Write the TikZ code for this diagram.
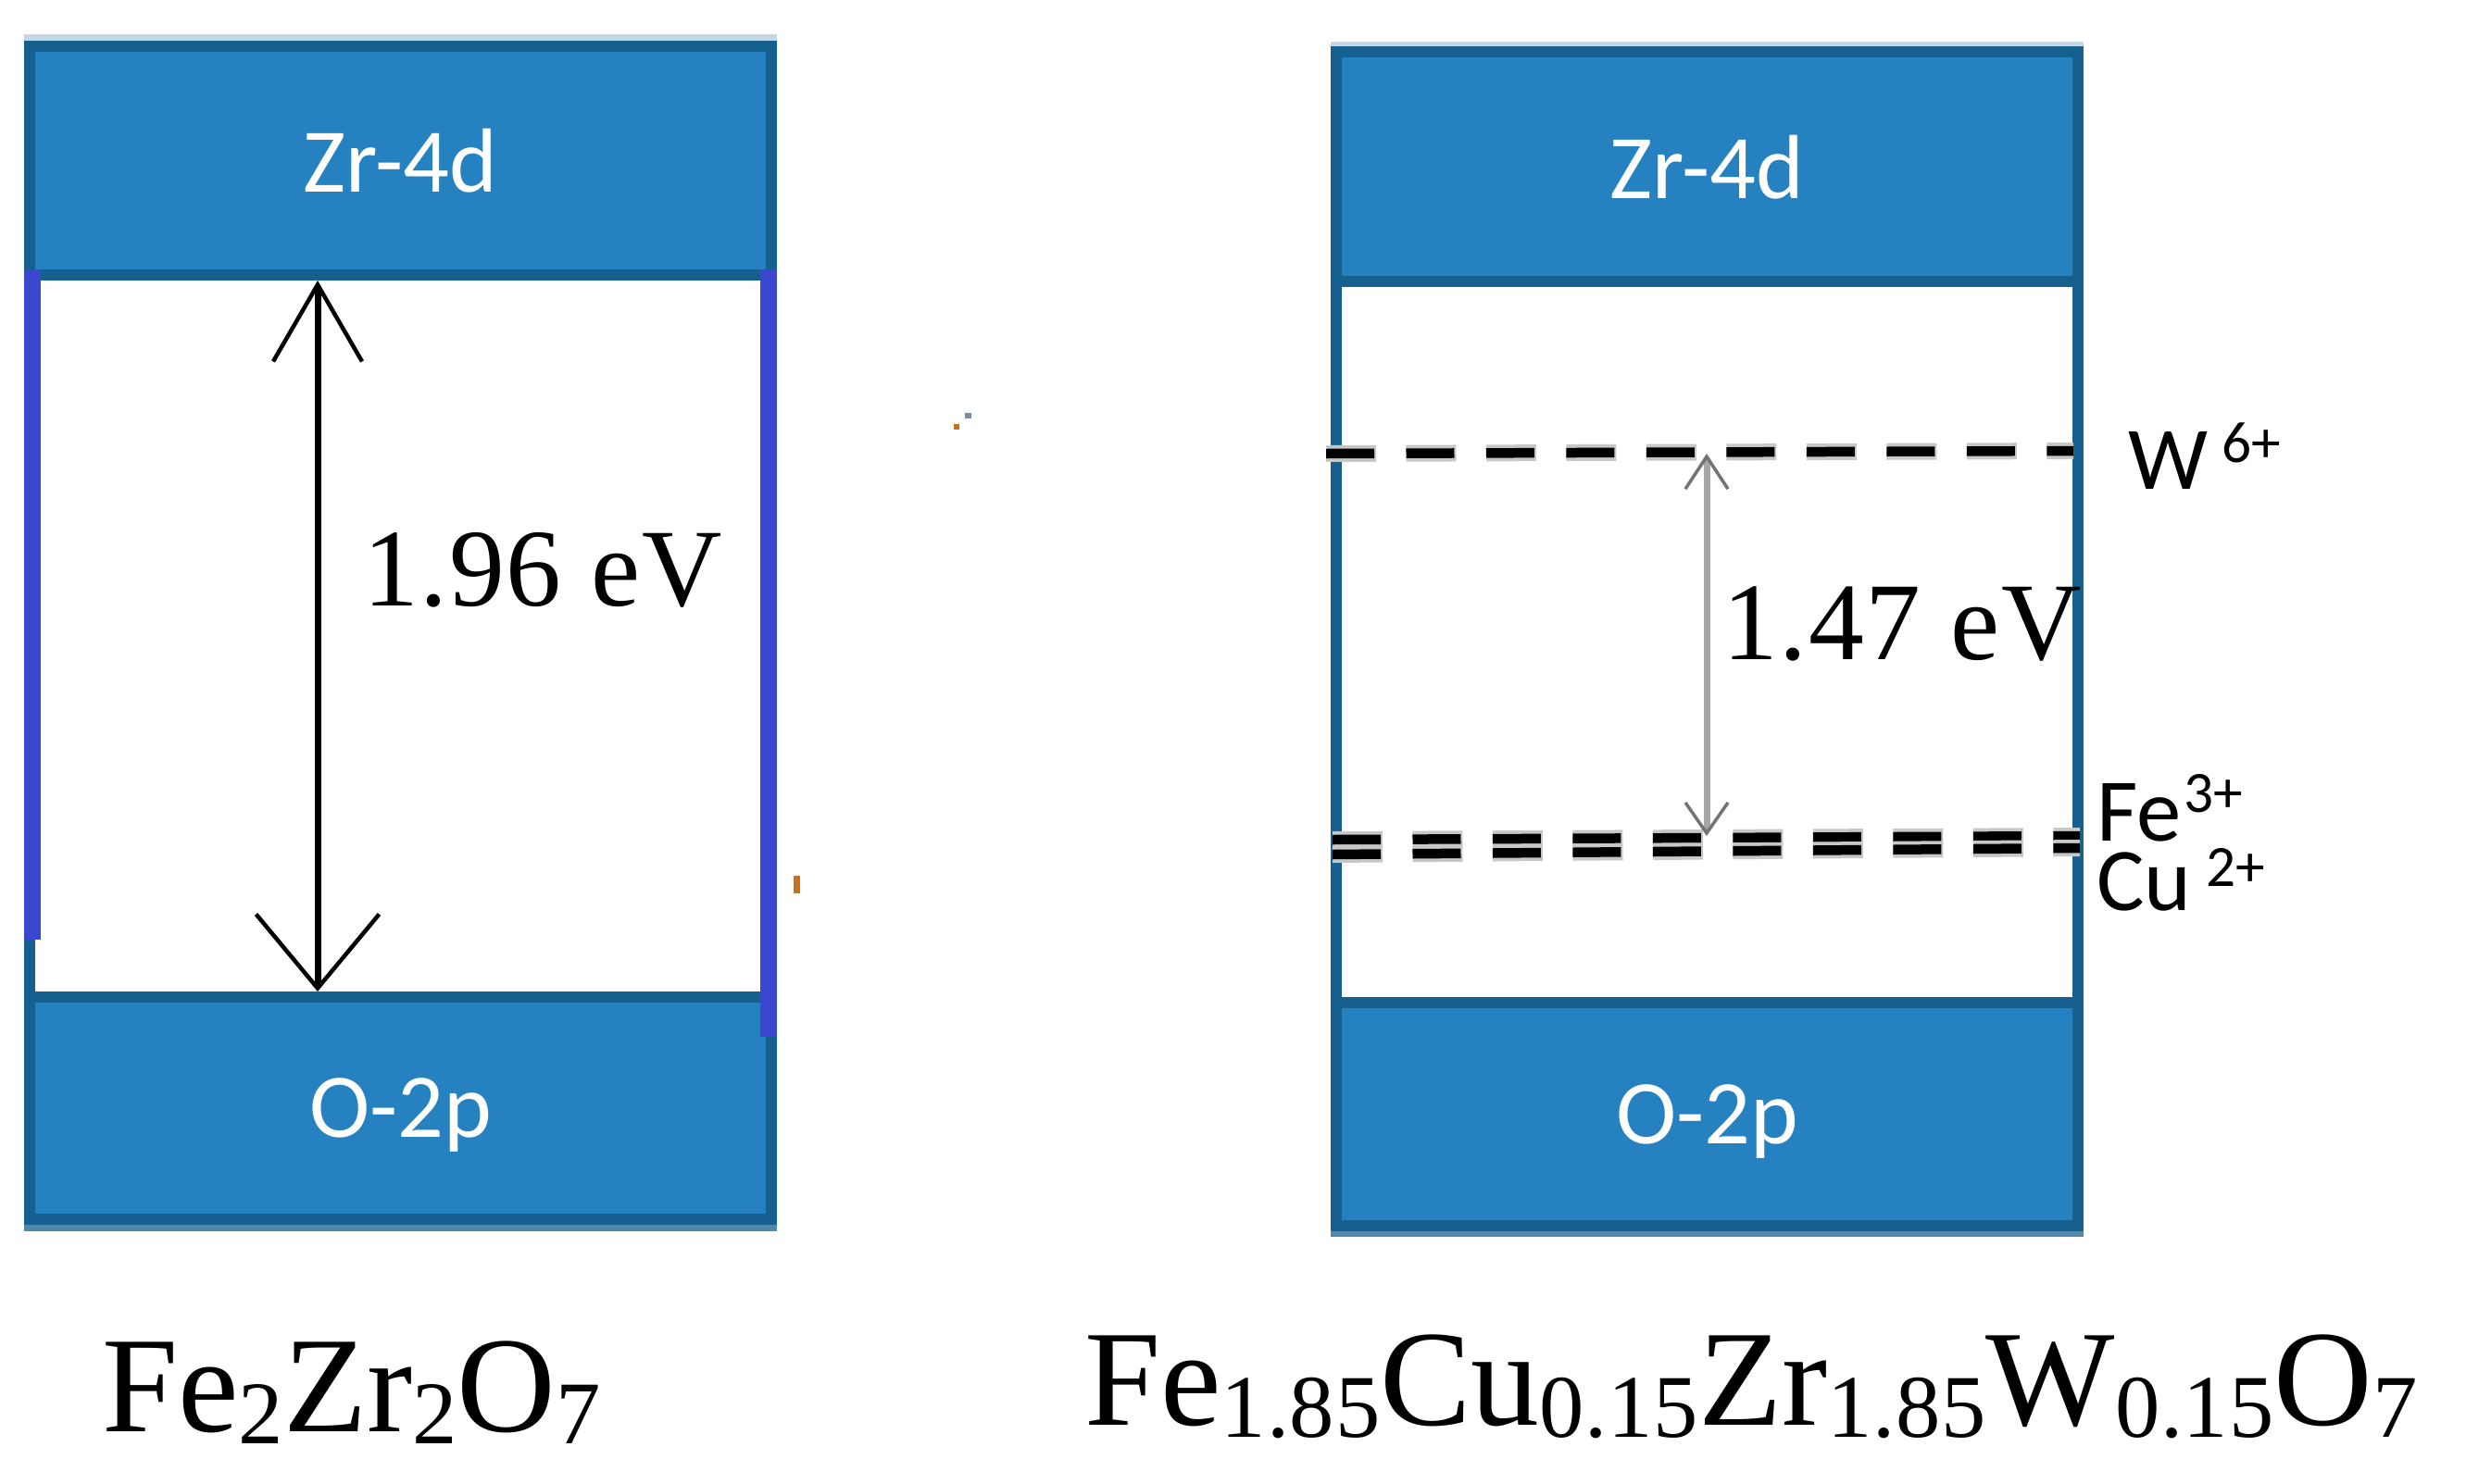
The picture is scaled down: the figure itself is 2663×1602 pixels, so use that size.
\documentclass[tikz,border=0pt]{standalone}
\usepackage{fontspec}
\usetikzlibrary{arrows.meta}
\setmainfont{Liberation Serif}
\newfontfamily\bandfont{Carlito}
\newfontfamily\subfont[LetterSpace=0.8]{Liberation Serif}
\newfontfamily\gapserif[LetterSpace=1.5]{Liberation Serif}
\definecolor{bandfill}{HTML}{2581C0}
\definecolor{bandline}{HTML}{15608F}
\definecolor{sideblue}{HTML}{3B47CF}
\definecolor{speckgrey}{HTML}{7E8C99}
\definecolor{speckorange}{HTML}{C9701E}
\newcommand{\gapfont}{\gapserif\fontsize{68}{70}\selectfont}
\newcommand{\formfont}{\fontsize{84}{90}\selectfont}
\newcommand{\lowered}[1]{\raisebox{-.26cm}{\fontsize{55}{55}\selectfont\subfont #1}}
\newcommand{\raised}[2]{\raisebox{#1}{\fontsize{36}{36}\selectfont #2}}
\begin{document}
\begin{tikzpicture}[x=0.02cm,y=-0.02cm]
        \tikzset{
            bandbox/.style={rectangle,draw=bandline,fill=bandfill,line width=.23cm,minimum width=16.02cm,
                text=white,text depth=0pt,font=\bandfont\fontsize{56}{60}\selectfont},
            frame/.style={draw=bandline,line width=.23cm},
            level/.style={draw=black,line width=.21cm,dash pattern=on 1.04cm off .69cm,
                preaction={draw=black!22,line width=.36cm,dash pattern=on 1.08cm off .65cm}},
            ion/.style={anchor=base west,inner sep=0pt,font=\bandfont\fontsize{55}{60}\selectfont},
            gaplabel/.style={anchor=base west,inner sep=0pt,font=\gapfont},
            formula/.style={anchor=base west,inner sep=0pt,font=\formfont}
        }
        \useasboundingbox (0,0) rectangle (2663,1602);

        % left box
        \fill[bandline!25] (26,37) rectangle (839,50);
        \fill[bandline!75] (26,1310) rectangle (839,1330);
        \draw[frame] (32,50) rectangle (833,1317);
        \node[bandbox,minimum height=4.94cm] (zrleft) at (432.5,173.5) {Zr-4d};
        \node[bandbox,minimum height=4.80cm] (oleft) at (432.5,1197) {O-2p};
        \fill[sideblue] (26,291) rectangle (44,1015);
        \fill[sideblue] (821,291) rectangle (839,1120);

        % right box
        \fill[bandline!25] (1437,45) rectangle (2250,56);
        \fill[bandline!75] (1437,1317) rectangle (2250,1336);
        \draw[frame] (1443,56) rectangle (2244,1324);
        \node[bandbox,minimum height=4.96cm] (zrright) at (1843.5,180) {Zr-4d};
        \node[bandbox,minimum height=4.82cm] (oright) at (1843.5,1203.5) {O-2p};

        % impurity levels
        \coordinate (wa) at (1432,490);
        \coordinate (wb) at (2239,487);
        \coordinate (fea) at (1439,907);
        \coordinate (feb) at (2246,903);
        \coordinate (cua) at (1439,923);
        \coordinate (cub) at (2246,916);
        \foreach \from / \to in {wa/wb,fea/feb,cua/cub}
            \draw[level] (\from) -- (\to);

        % gaps
        \coordinate (gapa) at (343,303);
        \coordinate (gapb) at (343,1071);
        \draw[black,line width=.14cm,{Straight Barb[length=1.66cm,width=1.92cm,line width=.09cm]}-{Straight Barb[length=1.6cm,width=2.66cm,line width=.09cm]}] (gapa) -- (gapb);
        \coordinate (gapc) at (1843,490);
        \coordinate (gapd) at (1843,903);
        \draw[black!35,line width=.14cm,{Straight Barb[length=.7cm,width=.92cm,line width=.07cm,black!55]}-{Straight Barb[length=.66cm,width=.92cm,line width=.07cm,black!55]}] (gapc) -- (gapd);

        \node[gaplabel] (gapleft) at (392,654) {1.96 eV};
        \node[gaplabel] (gapright) at (1860,712) {1.47 eV};

        % ions
        \node[ion] (wion) at (2298,528) {W\hspace{.3cm}\raised{.58cm}{6+}};
        \node[ion] (feion) at (2264,908) {Fe\hspace{.06cm}\raised{.62cm}{3+}};
        \node[ion] (cuion) at (2264,983) {Cu\hspace{.32cm}\raised{.52cm}{2+}};

        % formulas
        \node[formula] (formleft) at (110,1546) {Fe\lowered{2}Zr\lowered{2}O\lowered{7}};
        \node[formula] (formright) at (1171,1539) {Fe\lowered{1.85}Cu\lowered{0.15}Zr\lowered{1.85}W\lowered{0.15}O\lowered{7}};

        % specks
        \fill[speckgrey] (1042,446) rectangle (1049,452);
        \fill[speckorange] (1030,458) rectangle (1036,464);
        \fill[speckorange] (857,946) rectangle (864,965);
    \end{tikzpicture}
\end{document}
